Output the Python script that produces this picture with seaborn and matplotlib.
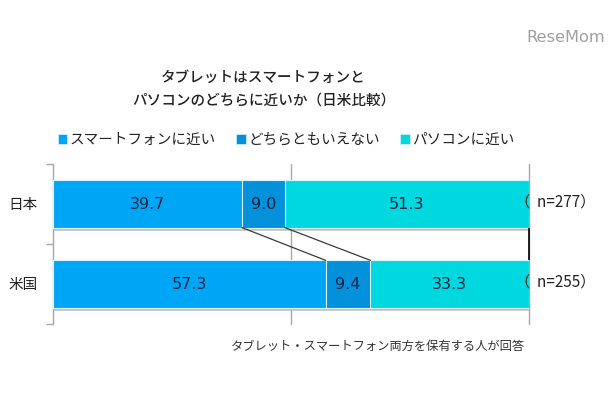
import numpy as np
import matplotlib
matplotlib.use("Agg")
import matplotlib.pyplot as plt
from matplotlib.patches import Patch
import seaborn as sns

countries = ["日本", "米国"]
series_names = ["スマートフォンに近い", "どちらともいえない", "パソコンに近い"]
smartphone = [39.7, 57.3]
neither = [9.0, 9.4]
pc = [51.3, 33.3]
sample_labels = ["（  n=277）", "（  n=255）"]
title = "タブレットはスマートフォンと\nパソコンのどちらに近いか（日米比較）"
note = "タブレット・スマートフォン両方を保有する人が回答"

colors = ["#00A6F6", "#0391DC", "#00D8E0"]
grey = "#A8A8A8"
jp_font = ["Noto Sans CJK JP", "DejaVu Sans"]

sns.set_style("white")
plt.rcParams["font.family"] = jp_font

fig = plt.figure(figsize=(6.1, 4), dpi=100)
ax = fig.add_axes([53 / 610, 1 - 324 / 400, 476 / 610, 160 / 400])

cum1 = np.array(smartphone)
cum2 = cum1 + np.array(neither)
cum3 = cum2 + np.array(pc)
bar_w = 0.59

# stacked bars: draw the longest first, shorter ones on top
ax.set_axisbelow(True)
for vals, col in zip([cum3, cum2, cum1], colors[::-1]):
    sns.barplot(x=vals, y=countries, color=col, width=bar_w, saturation=1,
                edgecolor="#DDF3FA", linewidth=0.8, ax=ax, zorder=3)

ax.set_xlim(0, 100)
ax.set_ylim(1.5, -0.5)

# grey shadow under each bar
for i in range(len(countries)):
    ax.hlines(i + bar_w / 2 + 0.02, 0, 100, color="#BDBDBD", lw=1.8, zorder=2)

# series lines between the bars
for c in [cum1, cum2]:
    ax.plot(c, [bar_w / 2, 1 - bar_w / 2], color="#3A3A3A", lw=0.9, zorder=4)
ax.vlines(100, bar_w / 2, 1 - bar_w / 2, color="black", lw=1.2, zorder=4, clip_on=False)

# value labels
for i in range(len(countries)):
    starts = [0, cum1[i], cum2[i]]
    for s, v in zip(starts, [smartphone[i], neither[i], pc[i]]):
        ax.text(s + v / 2, i + 0.01, f"{v:.1f}", ha="center", va="center",
                fontsize=11.5, color="#12233F", family="DejaVu Sans", zorder=5)
    ax.text(97.1, i - 0.03, sample_labels[i], ha="left", va="center",
            fontsize=11, color="#222222", zorder=5, clip_on=False)

# axes look
ax.set_xticks([50, 100])
ax.set_xticklabels([])
ax.xaxis.grid(True, color=grey, lw=1, clip_on=False)
ax.yaxis.grid(False)
ax.tick_params(axis="x", length=0)
ax.set_yticks([-0.5, 0.5, 1.5], minor=True)
ax.set_yticks([0, 1])
ax.set_yticklabels(countries, fontsize=10.5, color="#222222")
ax.tick_params(axis="y", which="major", length=0, pad=11)
ax.tick_params(axis="y", which="minor", length=5, width=1, color=grey, left=True)
for side in ["top", "right", "bottom"]:
    ax.spines[side].set_visible(False)
ax.spines["left"].set_color(grey)
ax.spines["left"].set_linewidth(1)
ax.set_xlabel("")
ax.set_ylabel("")

handles = [Patch(facecolor=c, edgecolor="#DDF3FA", linewidth=0.5) for c in colors]
fig.legend(handles, series_names, ncol=3, frameon=False, fontsize=10.5,
           loc="center left", bbox_to_anchor=(58 / 610, 1 - 140 / 400),
           handlelength=0.65, handleheight=0.65, handletextpad=0.15,
           columnspacing=1.4, labelcolor="#222222", borderpad=0, borderaxespad=0)

fig.text(263.5 / 610, 1 - 89 / 400, title, ha="center", va="center",
         fontsize=10.5, color="#222222", linespacing=1.85, fontweight="medium")
fig.text(525 / 610, 1 - 346 / 400, note, ha="right", va="center",
         fontsize=8.85, color="#333333")
fig.text(566 / 610, 1 - 37 / 400, "ReseMom", ha="center", va="center",
         fontsize=11.7, color="#A0A0A0", family="DejaVu Sans")

fig.savefig("out.png", dpi=100)
